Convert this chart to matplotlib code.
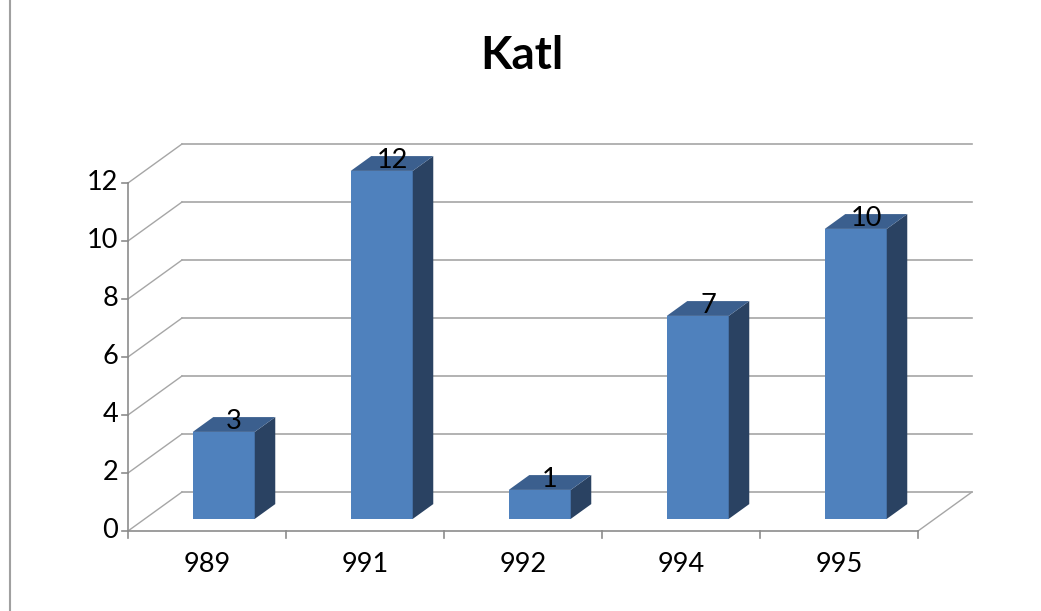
import matplotlib
matplotlib.use("Agg")
import matplotlib.pyplot as plt
from matplotlib.patches import Polygon

plt.rcParams['font.family'] = ['Lato', 'DejaVu Sans']

title = "Katl"
categories = ["989", "991", "992", "994", "995"]
values = [3, 12, 1, 7, 10]
y_ticks = [0, 2, 4, 6, 8, 10, 12]

W, H = 1041, 611
fig = plt.figure(figsize=(W / 100, H / 100), dpi=100)

# front plane of the 3D box (pixel placement)
x0, x1 = 128, 918
y0, y1 = 531, 183
ax = fig.add_axes([x0 / W, 1 - y0 / H, (x1 - x0) / W, (y0 - y1) / H])
n = len(categories)
ymax = y_ticks[-1]
ax.set_xlim(0, n)
ax.set_ylim(0, ymax)
ax.axis('off')

# depth offset (full floor depth) in data units
px_x = (x1 - x0) / n
px_y = (y0 - y1) / ymax
DX = 54 / px_x
DY = 39 / px_y

def proj(x, v, d):
    return (x + d * DX, v + d * DY)

grid_c = '#a6a6a6'
axis_c = '#8c8c8c'
fs = 19.5

# back wall gridlines + side wall diagonals
for v in y_ticks:
    bx0, by = proj(0, v, 1)
    bx1, _ = proj(n, v, 1)
    ax.plot([bx0, bx1], [by, by], color=grid_c, lw=1.2, clip_on=False, zorder=1)
    ax.plot([0, bx0], [v, by], color=grid_c, lw=1.0, clip_on=False, zorder=1)

# floor right diagonal
fx, fy = proj(n, 0, 1)
ax.plot([n, fx], [0, fy], color=grid_c, lw=1.0, clip_on=False, zorder=1)

# front axes
ax.plot([0, 0], [0, ymax], color=axis_c, lw=1.2, clip_on=False, zorder=5)
ax.plot([0, n], [0, 0], color=axis_c, lw=1.2, clip_on=False, zorder=5)

# y ticks & labels
tick_len_x = 6 / px_x
for v in y_ticks:
    ax.plot([-tick_len_x, 0], [v, v], color=axis_c, lw=1.2, clip_on=False, zorder=5)
    ax.text(-tick_len_x - 4 / px_x, v, str(v), ha='right', va='center',
            fontsize=fs, color='black')

# x ticks & labels
tick_len_y = 7 / px_y
for i in range(n + 1):
    ax.plot([i, i], [0, -tick_len_y], color=axis_c, lw=1.2, clip_on=False, zorder=5)
for i, c in enumerate(categories):
    ax.text(i + 0.5, -33 / px_y, c, ha='center', va='center', fontsize=fs, color='black')

# bars
bw = 62 / px_x
d_front, d_back = 0.31, 0.69
front_c = '#4f81bd'
side_c = '#2a4262'
top_c = '#3b5f8e'
for i, v in enumerate(values):
    xl = i + 0.5 - bw / 2
    xr = i + 0.5 + bw / 2
    fl_b = proj(xl, 0, d_front)
    fr_b = proj(xr, 0, d_front)
    fr_t = proj(xr, v, d_front)
    fl_t = proj(xl, v, d_front)
    br_b = proj(xr, 0, d_back)
    br_t = proj(xr, v, d_back)
    bl_t = proj(xl, v, d_back)
    ax.add_patch(Polygon([fl_b, fr_b, fr_t, fl_t], closed=True, fc=front_c, ec='none',
                         zorder=3, clip_on=False))
    ax.add_patch(Polygon([fr_b, br_b, br_t, fr_t], closed=True, fc=side_c, ec='none',
                         zorder=3, clip_on=False))
    ax.add_patch(Polygon([fl_t, fr_t, br_t, bl_t], closed=True, fc=top_c, ec='none',
                         zorder=3, clip_on=False))
    cx, cy = proj(i + 0.5, v, 0.5)
    ax.text(cx, cy + 3 / px_y, str(v), ha='center', va='center', fontsize=fs,
            color='black', zorder=6)

# title
fig.text(522 / W, 1 - 56 / H, title, ha='center', va='center', fontsize=33,
         fontweight='bold', color='black')

# left chart border
fig.add_artist(plt.Line2D([9.5 / W, 9.5 / W], [0, 1], color='#a0a0a0', lw=1.5,
                          transform=fig.transFigure))

fig.savefig('out.png', dpi=100, facecolor='white')
